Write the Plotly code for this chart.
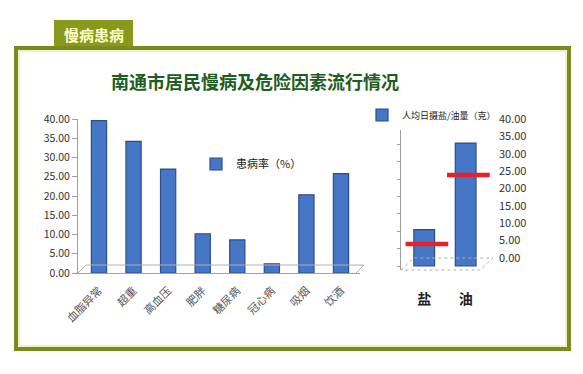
import plotly.graph_objects as go

W, H = 583, 374

# ---- data ----
diseases = ["血脂异常", "超重", "高血压", "肥胖", "糖尿病", "冠心病", "吸烟", "饮酒"]
rates = [39.6, 34.2, 27.0, 10.2, 8.6, 2.4, 20.3, 25.8]
rate_ticks = [0, 5, 10, 15, 20, 25, 30, 35, 40]

intake_items = ["盐", "油"]
intake_values = [10.5, 35.4]
intake_limits = [6.3, 26.2]
intake_ticks = [0, 5, 10, 15, 20, 25, 30, 35, 40]

title_text = "南通市居民慢病及危险因素流行情况"
tab_text = "慢病患病"
legend1_name = "患病率（%）"
legend2_name = "人均日摄盐/油量（克）"

CJK = "Noto Sans CJK SC"
BAR = "#4677c6"
BAR_EDGE = "#2b4e8c"


def px(x):
    return x / W


def py(y):
    return 1 - y / H


fig = go.Figure()

fig.add_trace(go.Bar(
    x=list(range(len(diseases))), y=rates, name=legend1_name,
    marker=dict(color=BAR, line=dict(color=BAR_EDGE, width=1.2)),
    width=0.44, xaxis="x", yaxis="y", legend="legend",
))

fig.add_trace(go.Bar(
    x=list(range(len(intake_items))), y=intake_values, name=legend2_name,
    marker=dict(color=BAR, line=dict(color=BAR_EDGE, width=1.2)),
    width=0.5, xaxis="x2", yaxis="y3", legend="legend2",
))

for i, lim in enumerate(intake_limits):
    fig.add_trace(go.Scatter(
        x=[i - 0.45, i + 0.58], y=[lim, lim], mode="lines",
        line=dict(color="#e3222c", width=4.5), showlegend=False,
        xaxis="x2", yaxis="y3", hoverinfo="skip",
    ))

fig.add_trace(go.Scatter(x=[0], y=[0], mode="markers", marker=dict(opacity=0),
                         showlegend=False, xaxis="x2", yaxis="y2", hoverinfo="skip"))

axis_grey = "#a0a0a0"
tick_font = dict(family=CJK, size=10.5, color="#333333")

shapes = [
    dict(type="rect", xref="paper", yref="paper", x0=px(54), x1=px(133), y0=py(47), y1=py(20),
         fillcolor="#88991c", line=dict(width=0), layer="below"),
    dict(type="rect", xref="paper", yref="paper", x0=px(16), x1=px(569), y0=py(349), y1=py(48),
         line=dict(color="#7b8b1e", width=4), fillcolor="rgba(0,0,0,0)"),
    dict(type="rect", xref="paper", yref="paper", x0=px(19), x1=px(566), y0=py(346), y1=py(51),
         line=dict(color="#dbe58a", width=1), fillcolor="rgba(0,0,0,0)"),
    dict(type="path", xref="paper", yref="paper",
         path=f"M {px(78)},{py(273)} L {px(86)},{py(265)} L {px(364)},{py(265)} L {px(356)},{py(273)}",
         line=dict(color="#b0b0b0", width=1)),
    dict(type="path", xref="paper", yref="paper",
         path=f"M {px(401)},{py(270)} L {px(414)},{py(258)} L {px(493)},{py(258)} L {px(480)},{py(270)} Z",
         line=dict(color="#b0b0b0", width=1, dash="dot")),
]

annotations = [
    dict(text=f"<b>{tab_text}</b>", xref="paper", yref="paper", x=px(93.5), y=py(34),
         xanchor="center", yanchor="middle",
         showarrow=False, font=dict(family=CJK, size=15, color="#ffffc6")),
    dict(text=f"<b>{title_text}</b>", xref="paper", yref="paper", x=px(255), y=py(81),
         xanchor="center", yanchor="middle",
         showarrow=False, font=dict(family=CJK, size=18, color="#1d5c22")),
]

fig.update_layout(
    width=W, height=H,
    autosize=False,
    margin=dict(l=0, r=0, t=0, b=0, pad=0, autoexpand=False),
    paper_bgcolor="white", plot_bgcolor="rgba(0,0,0,0)",
    shapes=shapes, annotations=annotations,
    xaxis=dict(domain=[px(78), px(360)], range=[-0.607, 7.55], automargin=False,
               tickvals=list(range(len(diseases))), ticktext=diseases,
               tickangle=-45, tickfont=dict(family=CJK, size=11, color="#555555"),
               showline=True, linecolor=axis_grey, ticks="outside", ticklen=6,
               tickcolor="rgba(0,0,0,0)", showgrid=False, zeroline=False,
               anchor="y"),
    yaxis=dict(domain=[py(273), py(119)], range=[0, 40], tickvals=rate_ticks, automargin=False,
               tickformat=".2f", ticksuffix="%", tickfont=tick_font,
               showline=True, linecolor=axis_grey, ticks="outside", ticklen=5,
               tickcolor=axis_grey, showgrid=False, zeroline=False, anchor="x"),
    xaxis2=dict(domain=[px(401), px(498)], range=[-0.56, 1.78], automargin=False,
                tickvals=list(range(len(intake_items))), ticktext=[f"<b>{t}</b>" for t in intake_items],
                tickfont=dict(family=CJK, size=14, color="#222222"),
                showline=False, ticks="outside", ticklen=16, tickcolor="rgba(0,0,0,0)",
                showgrid=False, zeroline=False, anchor="y3"),
    yaxis2=dict(domain=[py(258), py(119)], range=[0, 40], tickvals=intake_ticks, automargin=False,
                tickformat=".2f", tickfont=dict(family=CJK, size=11, color="#333333"),
                side="right", anchor="x2", showline=False, ticks="", showgrid=False,
                zeroline=False),
    yaxis3=dict(domain=[py(270), py(130)], range=[-1.15, 39.15], tickvals=intake_ticks, automargin=False,
                showticklabels=False, side="left", anchor="x2", showline=True,
                linecolor=axis_grey, ticks="outside", ticklen=3, tickcolor=axis_grey,
                showgrid=False, zeroline=False),
    legend=dict(x=px(196), y=py(164), xanchor="left", yanchor="middle",
                font=dict(family=CJK, size=11, color="#222222"), bgcolor="rgba(0,0,0,0)"),
    legend2=dict(x=px(362), y=py(115), xanchor="left", yanchor="middle",
                 font=dict(family=CJK, size=9, color="#222222"), bgcolor="rgba(0,0,0,0)"),
    showlegend=True,
)

fig.write_html("out.html", config={"displayModeBar": False, "staticPlot": True},
               post_script="document.body.style.margin='0';document.body.style.overflow='hidden';")
